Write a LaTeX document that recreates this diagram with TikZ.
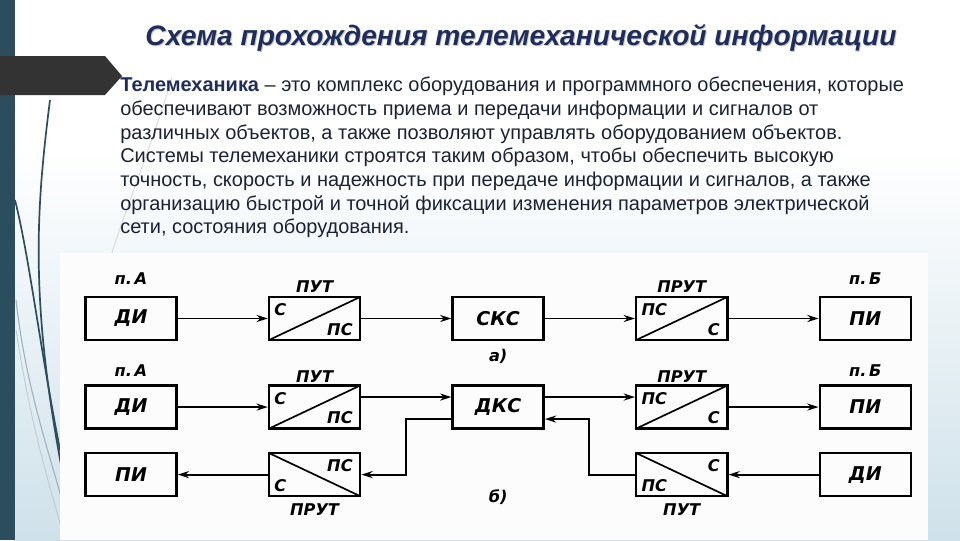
\documentclass[tikz,border=0pt]{standalone}
\usepackage{fontspec}
\setmainfont{Liberation Sans}
\newfontfamily\schemefont{DejaVu Sans}
\usetikzlibrary{arrows.meta,positioning}
\definecolor{slatebar}{HTML}{2B4D5E}
\definecolor{banner}{HTML}{333333}
\definecolor{titlenavy}{HTML}{1F2D5C}
\definecolor{bodytext}{HTML}{1C2236}
\definecolor{paleblue}{HTML}{CFE1EA}
\definecolor{wisp}{HTML}{9FB4BE}

\begin{document}
\begin{tikzpicture}[x=0.025cm, y=-0.025cm,
    box/.style={draw, line width=1.8pt, minimum width=2.275cm, minimum height=1.075cm, inner sep=0pt, font=\schemefont\bfseries\itshape\fontsize{13.5}{15}\selectfont},
    convup/.style={box, path picture={\draw[line width=1.2pt] (path picture bounding box.south west) -- (path picture bounding box.north east);}},
    convdown/.style={box, path picture={\draw[line width=1.2pt] (path picture bounding box.north west) -- (path picture bounding box.south east);}},
    tag/.style={font=\schemefont\bfseries\itshape\fontsize{11.5}{13}\selectfont, inner sep=1pt},
    tl/.style={tag, anchor=north west, xshift=3.5pt, yshift=-4.5pt},
    tr/.style={tag, anchor=north east, xshift=-5pt, yshift=-4.5pt},
    bl/.style={tag, anchor=south west, xshift=3.5pt, yshift=3pt},
    br/.style={tag, anchor=south east, xshift=-5pt, yshift=3pt},
    arr/.style={-{Stealth[length=8pt, width=5pt]}, line width=1.3pt}
  ]
    % slide background
    \fill[white] (0,0) rectangle (960,540);
    \shade[top color=white, bottom color=paleblue] (15,150) rectangle (960,540);
    \fill[slatebar] (0,0) rectangle (15,540);
    \draw[slatebar, line width=1.2pt] (50,100) .. controls (36,210) and (30,300) .. (62,470);
    \draw[slatebar, line width=1.2pt] (15,200) .. controls (30,260) and (40,350) .. (62,460);
    \draw[wisp, line width=0.8pt] (16,300) .. controls (25,380) and (45,440) .. (62,500);
    \draw[wisp!70, line width=0.6pt] (16,330) .. controls (30,420) and (45,470) .. (62,530);
    \draw[gray!35, line width=0.5pt] (172,78) .. controls (150,150) and (125,210) .. (108,265);
    \fill[banner] (0,56) -- (105,56) -- (122,76) -- (105,95) -- (0,95) -- cycle;

    % title and text
    \node[font=\bfseries\itshape\fontsize{20}{24}\selectfont, text=gray!45] at (522,39) {Схема прохождения телемеханической информации};
    \node[font=\bfseries\itshape\fontsize{20}{24}\selectfont, text=titlenavy] (title) at (521,38) {Схема прохождения телемеханической информации};
    \node[anchor=north west, inner sep=0pt, align=left, text=bodytext, font=\fontsize{14.2}{16.8}\selectfont] (intro) at (120,77) {%
      \textbf{\color{titlenavy}Телемеханика} – это комплекс оборудования и программного обеспечения, которые\\
      обеспечивают возможность приема и передачи информации и сигналов от\\
      различных объектов, а также позволяют управлять оборудованием объектов.\\
      Системы телемеханики строятся таким образом, чтобы обеспечить высокую\\
      точность, скорость и надежность при передаче информации и сигналов, а также\\
      организацию быстрой и точной фиксации изменения параметров электрической\\
      сети, состояния оборудования.};

    % scheme panel
    \fill[white!98!gray] (60,253) rectangle (928,540);

    % a) simplex
    \node[box, label={[tag, label distance=7pt]above:п.\,А}] (dia) at (131,318.5) {ДИ};
    \node[convup, right=2.25cm of dia, label={[tag, label distance=1pt]above:ПУТ}, label={[tl]north west:С}, label={[br]south east:ПС}] (puta) {};
    \node[box, right=2.25cm of puta] (sks) {СКС};
    \node[convup, right=2.25cm of sks, label={[tag, label distance=1pt]above:ПРУТ}, label={[tl]north west:ПС}, label={[br]south east:С}] (pruta) {};
    \node[box, right=2.25cm of pruta, label={[tag, label distance=7pt]above:п.\,Б}] (pia) {ПИ};
    \node[tag, below=0.15cm of sks] (capa) {а)};

    % b) duplex
    \node[box, below=1.075cm of dia, label={[tag, label distance=4pt]above:п.\,А}] (dib) {ДИ};
    \node[convup, right=2.25cm of dib, label={[tag, label distance=0pt]above:ПУТ}, label={[tl]north west:С}, label={[br]south east:ПС}] (putb) {};
    \node[box, right=2.25cm of putb] (dks) {ДКС};
    \node[convup, right=2.25cm of dks, label={[tag, label distance=0pt]above:ПРУТ}, label={[tl]north west:ПС}, label={[br]south east:С}] (prutb) {};
    \node[box, right=2.25cm of prutb, label={[tag, label distance=4pt]above:п.\,Б}] (pib) {ПИ};

    \node[box, below=0.55cm of dib] (pic) {ПИ};
    \node[convdown, right=2.25cm of pic, label={[tag, label distance=3pt]below:ПРУТ}, label={[tr]north east:ПС}, label={[bl]south west:С}] (prutc) {};
    \node[convdown, below=0.55cm of prutb, label={[tag, label distance=3pt]below:ПУТ}, label={[tr]north east:С}, label={[bl]south west:ПС}] (putc) {};
    \node[box, right=2.25cm of putc] (dic) {ДИ};
    \node[tag, below=1.45cm of dks] (capb) {б)};

    \draw[arr] (dia) -- (puta);
    \draw[arr] (puta) -- (sks);
    \draw[arr] (sks) -- (pruta);
    \draw[arr] (pruta) -- (pia);

    \draw[arr] (dib) -- (putb);
    \draw[arr] ([yshift=0.25cm]putb.east) -- ([yshift=0.25cm]dks.west);
    \draw[arr] ([yshift=0.25cm]dks.east) -- ([yshift=0.25cm]prutb.west);
    \draw[arr] (prutb) -- (pib);
    \draw[arr] ([yshift=-0.3cm]dks.west) -- ++(-1.125cm,0) |- (prutc.east);
    \draw[arr] (prutc) -- (pic);
    \draw[arr] (dic) -- (putc);
    \draw[arr] (putc.west) -- ++(-1.15cm,0) |- ([yshift=-0.3cm]dks.east);
  \end{tikzpicture}
\end{document}
